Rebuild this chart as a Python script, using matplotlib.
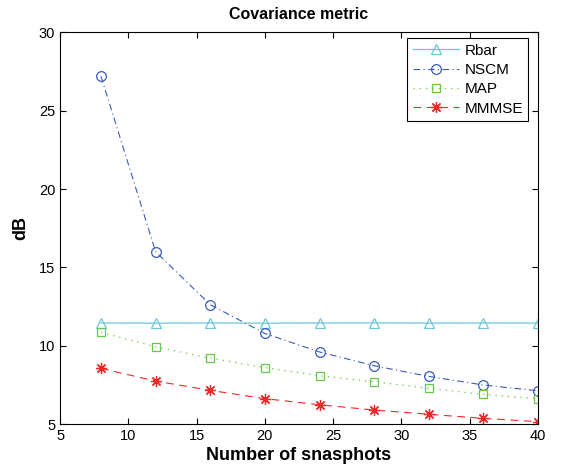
import matplotlib
matplotlib.use("Agg")
import matplotlib.pyplot as plt

plt.rcParams['font.family'] = ['Liberation Sans', 'DejaVu Sans']

snapshots = [8, 12, 16, 20, 24, 28, 32, 36, 40]
rbar = [11.45, 11.44, 11.45, 11.44, 11.45, 11.46, 11.44, 11.45, 11.44]
nscm = [27.2, 16.0, 12.62, 10.78, 9.6, 8.72, 8.04, 7.49, 7.12]
map_ = [10.85, 9.93, 9.21, 8.6, 8.08, 7.7, 7.28, 6.89, 6.62]
mmmse = [8.55, 7.74, 7.15, 6.62, 6.23, 5.89, 5.62, 5.36, 5.15]
xticks = [5, 10, 15, 20, 25, 30, 35, 40]
yticks = [5, 10, 15, 20, 25, 30]

fig = plt.figure(figsize=(5.85, 4.68), dpi=100)
ax = fig.add_axes([0.1026, 0.094, 0.8171, 0.8366])

ax.plot(snapshots, rbar, '-', color='#6cc8d4', marker='^', ms=7, mfc='none', mew=0.9, lw=0.9, label='Rbar')
ax.plot(snapshots, nscm, color='#3a5cb8', marker='o', ms=7, mfc='none', mew=0.9, lw=0.8,
        dashes=(6, 3, 1, 3), label='NSCM')
ax.plot(snapshots, map_, color='#66c848', marker='s', ms=6, mfc='none', mew=0.9, lw=0.9,
        dashes=(1, 4), label='MAP')
ax.plot(snapshots, mmmse, color='#f02828', marker=(8, 2, 0), ms=8, mfc='none', mew=0.9, lw=0.8,
        dashes=(7, 5), label='MMMSE')

ax.set_xlim(5, 40)
ax.set_ylim(5, 30)
ax.set_xticks(xticks)
ax.set_yticks(yticks)
ax.tick_params(direction='in', top=True, right=True, labelsize=10.5, length=4)
for s in ax.spines.values():
    s.set_linewidth(0.8)

ax.set_title('Covariance metric', fontsize=11.5, fontweight='bold', pad=10)
ax.set_xlabel('Number of snasphots', fontsize=13, fontweight='bold', labelpad=3)
ax.set_ylabel('dB', fontsize=13, fontweight='bold', labelpad=7)

leg = ax.legend(loc='upper right', bbox_to_anchor=(0.98, 0.985), fontsize=11, fancybox=False,
                framealpha=1, edgecolor='black', borderaxespad=0.0, handlelength=3.0,
                labelspacing=0.35, borderpad=0.35, handletextpad=0.4)
leg.get_frame().set_linewidth(0.8)

fig.savefig('out.png', dpi=100)
